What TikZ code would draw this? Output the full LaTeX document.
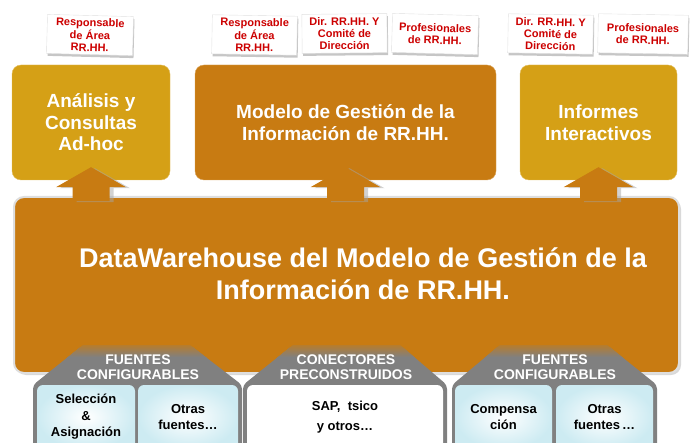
\documentclass[tikz,border=0pt]{standalone}
\usepackage{fontspec}
\setmainfont{Liberation Sans}
\usetikzlibrary{calc,shadows}
\definecolor{mygold}{RGB}{213,160,22}
\definecolor{myorange}{RGB}{200,123,18}
\definecolor{mygray}{RGB}{128,128,128}
\definecolor{myred}{RGB}{204,0,0}
\definecolor{myblue}{RGB}{205,235,242}
\tikzset{
  topbox/.style={rounded corners=9pt, minimum height=115, text=white, align=center, inner sep=0pt,
    font=\fontsize{19}{21.5}\selectfont\bfseries},
  cardbox/.style={fill=white, draw=black!12, minimum height=39, text=myred, align=center, inner sep=1pt,
    font=\fontsize{11}{12}\selectfont\bfseries,
    drop shadow={shadow xshift=1pt, shadow yshift=-2.5pt, opacity=.45}},
  srchead/.style={text=white, align=center, inner sep=0pt, font=\fontsize{14}{15}\selectfont\bfseries},
  srcbox/.style={rounded corners=6pt, minimum height=64, text=black, align=center, inner sep=0pt,
    font=\fontsize{13}{16.5}\selectfont\bfseries},
  blueish/.style={inner color=white, outer color=myblue},
  arrowbody/.style={fill=myorange, drop shadow={shadow xshift=4pt, shadow yshift=-1pt, fill=gray!70, opacity=.5}}
}
\begin{document}
\begin{tikzpicture}[x=1pt, y=-1pt]
\useasboundingbox (0,0) rectangle (692,443);
\clip (0,0) rectangle (692,443);

\node[topbox, fill=mygold, draw=mygold!70!white, minimum width=158] (anal) at (91,122.5) {Análisis y\\Consultas\\Ad-hoc};
\node[topbox, fill=myorange, draw=myorange!70!white, minimum width=301] (modelo) at (345.5,122.5) {Modelo de Gestión de la\\Información de RR.HH.};
\node[topbox, fill=mygold, draw=mygold!70!white, minimum width=157] (informes) at (598.5,122.5) {Informes\\Interactivos};

\node[draw=black!13, line width=2pt, fill=myorange, rounded corners=10pt, minimum width=665, minimum height=176,
  drop shadow={shadow xshift=2pt, shadow yshift=-2pt, fill=black!15, opacity=1}] (dwh) at (346.5,285) {};
\node[text=white, align=center, font=\fontsize{27}{32}\selectfont\bfseries] (dwhlabel) at (363,274)
  {DataWarehouse del Modelo de Gestión de la\\Información de RR.HH.};

\foreach \b in {anal,modelo,informes}
  \fill[arrowbody] ($(\b.south)+(0,-13)$) -- ++(35,20) -- ++(-16.5,0) -- ++(0,14) -- ++(-37,0) -- ++(0,-14) -- ++(-16.5,0) -- cycle;

\foreach \l/\r/\tl/\tr in {33/242/83/190, 243/447/293/400, 452/657/500/607}{
  \fill[mygray, rounded corners=4pt] (\tl,345) -- (\tr,345) -- (\r,385) -- (\r,450) -- (\l,450) -- (\l,385) -- cycle;
  \begin{scope}
    \clip (\tl,345) -- (\tr,345) -- (\r,385) -- (\r,450) -- (\l,450) -- (\l,385) -- cycle;
    \shade[top color=myorange, bottom color=mygray] (\l,341) rectangle (\r,357);
  \end{scope}
}
\node[srchead] (hdrA) at (138,367.5) {FUENTES\\CONFIGURABLES};
\node[srchead] (hdrB) at (346,367.5) {CONECTORES\\PRECONSTRUIDOS};
\node[srchead] (hdrC) at (555,367.5) {FUENTES\\CONFIGURABLES};

\node[srcbox, blueish, minimum width=98] (selec) at (86,417) {Selección\\\&\\Asignación};
\node[srcbox, blueish, minimum width=100] (otrasA) at (188,417) {Otras\\fuentes…};
\node[srcbox, fill=white, minimum width=196, font=\fontsize{13}{20}\selectfont\bfseries] (sap) at (345,417) {SAP,~ tsico\\y otros…};
\node[srcbox, blueish, minimum width=97] (compen) at (503.5,417) {Compensa\\ción};
\node[srcbox, blueish, minimum width=97] (otrasC) at (604.5,417) {Otras\\fuentes\,…};

\foreach \n/\x/\y/\w/\r/\txt in {
  cardA/90/35/86/-1.5/{Responsable\\de Área\\RR.HH.},
  cardB/254.5/35/85/-1/{Responsable\\de Área\\RR.HH.},
  cardC/344.5/33.5/85/0.5/{Dir. RR.HH. Y\\Comité de\\Dirección},
  cardD/435/34/86/-1.5/{Profesionales\\de RR.HH.},
  cardE/550.5/34/85/-1/{Dir. RR.HH. Y\\Comité de\\Dirección},
  cardF/643/34/90/-1/{Profesionales\\de RR.HH.}}
  \node[cardbox, minimum width=\w, rotate=\r] (\n) at (\x,\y) {\txt};
\end{tikzpicture}
\end{document}
